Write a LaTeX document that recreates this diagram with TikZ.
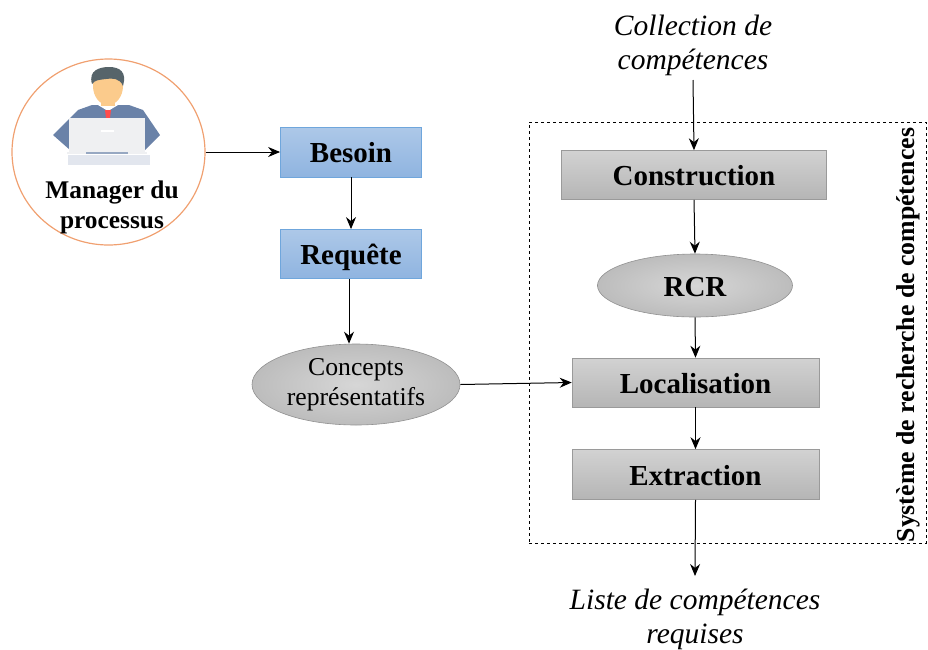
\documentclass[tikz,border=0pt]{standalone}
\usepackage{fontspec}
\setmainfont{Liberation Serif}
\usetikzlibrary{shapes.geometric,arrows.meta}
\definecolor{blueA}{HTML}{ADC8E8}
\definecolor{blueB}{HTML}{8FB4E0}
\definecolor{blueE}{HTML}{6FA6DC}
\definecolor{greyA}{HTML}{D2D2D2}
\definecolor{greyB}{HTML}{B5B5B5}
\definecolor{orangeC}{HTML}{F0A070}
\definecolor{suit}{HTML}{6A82A8}
\definecolor{skin}{HTML}{FBCB8C}
\definecolor{hair}{HTML}{56646A}
\definecolor{lap}{HTML}{EFF0F2}
\definecolor{halo}{HTML}{E2E6EE}
\tikzset{
  x=1pt,y=-1pt,
  boldlab/.style={font=\fontsize{29}{30}\selectfont\bfseries,text height=29pt,text depth=8pt},
  bluebox/.style={rectangle,draw=blueE,line width=.8pt,top color=blueA,bottom color=blueB,minimum width=141pt,minimum height=50pt,inner sep=0pt,boldlab},
  greybox/.style={rectangle,draw=greyB!85!black,line width=.6pt,top color=greyA,bottom color=greyB,inner sep=0pt,boldlab},
  greyell/.style={ellipse,draw=greyB!80!black,line width=.6pt,inner color=greyA!90!white,outer color=greyB!90!white,inner sep=0pt},
  conn/.style={draw=black,line width=1pt,-{Stealth[length=12pt,width=10pt]}},
  ital/.style={font=\fontsize{29.5}{34}\selectfont\itshape,align=center,inner sep=0pt}
}
\begin{document}
\begin{tikzpicture}
\useasboundingbox (0,0) rectangle (928,649);
% dashed frame
\node[draw=black,dashed,line width=.8pt,rectangle,minimum width=397pt,minimum height=421pt,inner sep=0pt] (frame) at (727.5,332.5) {};
% manager
\node[ellipse,draw=orangeC,line width=1.2pt,minimum width=193pt,minimum height=186pt,inner sep=0pt] (mgr) at (108.5,152) {};
% person icon
\fill[halo] (68,155) rectangle (150,165);
\fill[suit] (53,135) -- (78,110) -- (92,105) -- (129,105) -- (143,110) -- (160,135) -- (145,150) -- (70,150) -- cycle;
\fill[white] (98,105) -- (108,111) -- (118,105) -- (116,100) -- (100,100) -- cycle;
\fill[red!70!white] (105,110) -- (111,110) -- (110,118) -- (106,118) -- cycle;
\fill[skin] (101,95) rectangle (115,106);
\fill[skin] (108,86) ellipse [x radius=15pt,y radius=19pt];
\fill[hair] (92,84) .. controls (88,70) and (100,67) .. (109,67) .. controls (120,67) and (127,72) .. (123,86) .. controls (120,78) and (112,78) .. (106,79) .. controls (98,80) and (95,80) .. (92,84) -- cycle;
\fill[lap] (69,118) rectangle (145,152);
\fill[lap] (67,152) rectangle (147,154);
\fill[suit!70!white] (86,152) rectangle (128,154);
\fill[white] (101,130) rectangle (114,132);
\node[font=\fontsize{25.4}{30}\selectfont\bfseries,align=center,inner sep=0pt] (mgrtxt) at (112,207.5) {Manager du\\processus};
% left column
\node[bluebox] (bes) at (351,152) {Besoin};
\node[bluebox,minimum height=49pt] (req) at (351,254) {Requête};
\node[greyell,inner sep=-18pt,minimum width=208pt,minimum height=81pt] (con) at (356,384.5) {\raisebox{-2pt}{\parbox{150pt}{\centering\fontsize{25.7}{30}\selectfont Concepts\\représentatifs}}};
% right column
\node[ital] (coll) at (693,45.5) {Collection de\\compétences};
\node[greybox,minimum width=265pt,minimum height=49pt] (cons) at (694,175) {Construction};
\node[greyell,minimum width=195pt,minimum height=63pt,boldlab] (rcr) at (695,285.5) {RCR};
\node[greybox,minimum width=247pt,minimum height=49pt] (loc) at (695.5,382.5) {Localisation};
\node[greybox,minimum width=247pt,minimum height=50pt] (ext) at (695.5,474.5) {Extraction};
\node[ital] (list) at (695,619) {Liste de compétences\\requises};
\node[rotate=90,font=\fontsize{25.8}{28}\selectfont\bfseries,inner sep=0pt] (sys) at (908,335) {Système de recherche de compétences};
% connectors
\draw[conn] (mgr.east) -- (bes.west);
\draw[conn] (bes.south) -- (req.north);
\draw[conn] (req.south) ++(-2,0) coordinate (rq) (rq) -- (con.north -| rq);
\draw[conn] (con.east) -- (loc.west);
\coordinate (colbot) at (693,80);
\draw[conn] (colbot) -- (cons.north);
\draw[conn] (cons.south) -- (rcr.north);
\draw[conn] (rcr.south) -- (loc.north);
\draw[conn] (loc.south) -- (ext.north);
\coordinate (listtop) at (695,576);
\draw[conn] (ext.south) -- (listtop);
\end{tikzpicture}
\end{document}
